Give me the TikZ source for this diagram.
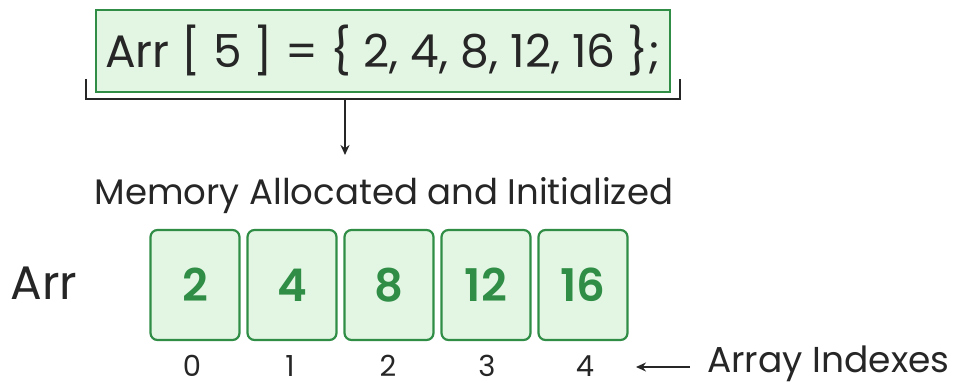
\documentclass[tikz,border=0pt]{standalone}
\usepackage{fontspec}
\setmainfont{Poppins}
\newfontfamily\cellfont{Poppins SemiBold}
\usetikzlibrary{arrows.meta}
\definecolor{cellfill}{HTML}{E3F6E3}
\definecolor{cellline}{HTML}{2F8D46}
\definecolor{ink}{HTML}{262626}
\begin{document}
\begin{tikzpicture}[x=1pt,y=-1pt,
  cell/.style={draw=cellline,fill=cellfill,line width=2.2pt,rounded corners=7pt,
    minimum width=89pt,minimum height=110pt,inner sep=0pt,
    text=cellline,font=\fontsize{45}{48}\cellfont},
  idx/.style={text=ink,inner sep=0pt,font=\fontsize{29}{32}\selectfont},
  lbl/.style={text=ink,inner sep=0pt},
  conn/.style={draw=ink,line width=2pt,-{Stealth[length=10pt,width=9pt]}}]
\useasboundingbox (0,0) rectangle (957,385);

% declaration box
\node[draw=cellline,fill=cellfill,line width=2.4pt,minimum width=574pt,
  minimum height=82pt,inner sep=0pt,text=ink,
  font=\fontsize{45.5}{50}\selectfont] (decl) at (383,51)
  {Arr [ 5 ] = \{ 2, 4, 8, 12, 16 \};};

% bracket under the declaration
\coordinate (bl) at (86,79);
\coordinate (br) at (680,79);
\coordinate (bmid) at (345,99);
\draw[ink,line width=2.4pt] (bl) |- (br |- bmid) -- (br);
\coordinate (tip) at (345,155);
\draw[conn] (bmid) -- (tip);

% caption
\node[lbl,font=\fontsize{35.5}{38}\selectfont] (cap) at (384,196)
  {Memory Allocated and Initialized};

% array label
\node[lbl,font=\fontsize{47}{50}\selectfont] (arr) at (44,283) {Arr};

% cells
\node[cell] (c0) at (195,285) {2};
\node[cell] (c1) at (292,285) {4};
\node[cell] (c2) at (389,285) {8};
\node[cell] (c3) at (486,285) {12};
\node[cell] (c4) at (583,285) {16};

% indexes
\node[idx] (i0) at (192,366) {0};
\node[idx] (i1) at (290,366) {1};
\node[idx] (i2) at (388,366) {2};
\node[idx] (i3) at (487,366) {3};
\node[idx] (i4) at (585,366) {4};

% index label and pointer
\node[lbl,font=\fontsize{36}{39}\selectfont,anchor=west] (ai) at (707,364)
  {Array Indexes};
\coordinate (as) at (690,367);
\coordinate (ae) at (636,367);
\draw[conn] (as) -- (ae);
\end{tikzpicture}
\end{document}
